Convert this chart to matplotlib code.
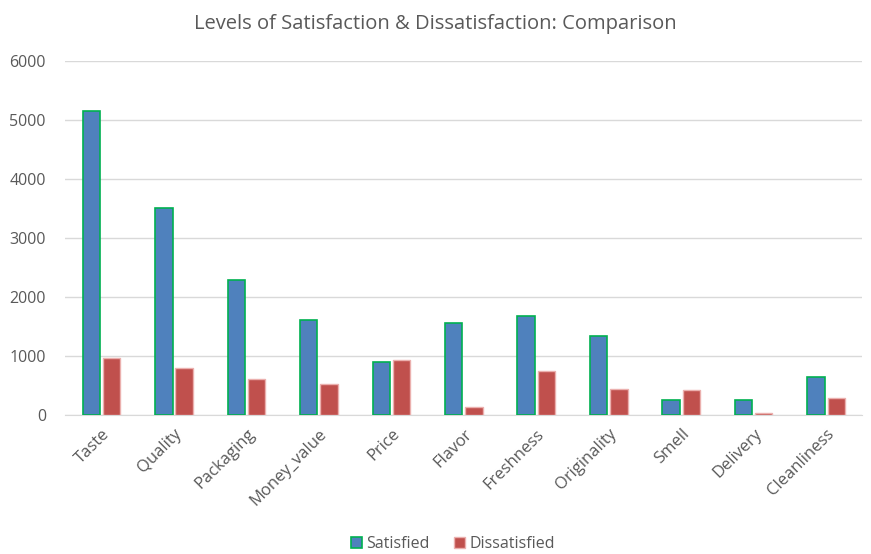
import numpy as np
import matplotlib.pyplot as plt

categories = ["Taste", "Quality", "Packaging", "Money_value", "Price", "Flavor",
              "Freshness", "Originality", "Smell", "Delivery", "Cleanliness"]
satisfied = [5160, 3500, 2280, 1615, 905, 1565, 1685, 1330, 260, 260, 650]
dissatisfied = [970, 800, 605, 525, 930, 130, 740, 435, 418, 28, 288]

plt.rcParams['font.family'] = ['Open Sans', 'DejaVu Sans']
text_col = "#595959"

fig = plt.figure(figsize=(8.71, 5.54), dpi=100)
ax = fig.add_axes([0.075, 0.251, 0.915, 0.639])

x = np.arange(len(categories))
w = 0.24
ax.bar(x - w / 2 - 0.02, satisfied, w, color="#4F81BD", edgecolor="#00B050",
       linewidth=1.2, label="Satisfied", zorder=3)
ax.bar(x + w / 2 + 0.02, dissatisfied, w, color="#C0504D", edgecolor="#EBB0AE",
       linewidth=1.0, label="Dissatisfied", zorder=3)

ax.set_xlim(-0.5, len(categories) - 0.5)
ax.set_ylim(0, 6000)
ax.set_yticks(range(0, 6001, 1000))
ax.yaxis.grid(True, color="#D9D9D9", linewidth=1)
ax.set_axisbelow(True)
for s in ["top", "right", "left"]:
    ax.spines[s].set_visible(False)
ax.spines["bottom"].set_color("#D9D9D9")
ax.tick_params(axis="both", length=0, colors=text_col)
ax.tick_params(axis="y", pad=14, labelsize=11.5)
ax.tick_params(axis="x", pad=8, labelsize=12)
ax.set_xticks(x)
ax.set_xticklabels(categories, rotation=45, ha="right", rotation_mode="anchor")

fig.suptitle("Levels of Satisfaction & Dissatisfaction: Comparison",
             x=0.5, y=0.975, fontsize=14.5, color=text_col)

fig.legend(loc="lower center", bbox_to_anchor=(0.52, -0.022), ncol=2, frameon=False,
           fontsize=11.5, labelcolor=text_col, handlelength=0.7, handleheight=0.7,
           handletextpad=0.3, columnspacing=1.5)

fig.savefig("out.png", dpi=100)
